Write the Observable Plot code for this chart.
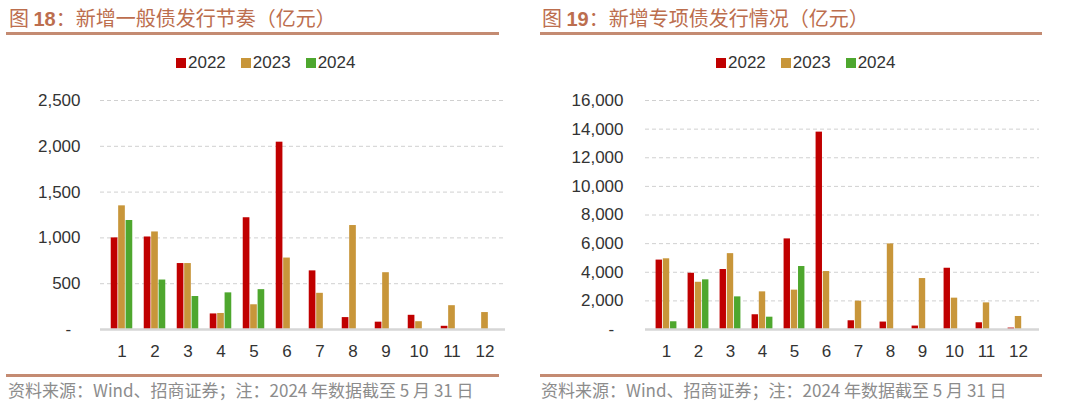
<!DOCTYPE html>
<html>
<head>
<meta charset="utf-8">
<script src="https://cdn.jsdelivr.net/npm/d3@7"></script>
<script src="https://cdn.jsdelivr.net/npm/@observablehq/plot@0.6"></script>
<style>
  html, body { margin: 0; padding: 0; background: #fff; }
  body { width: 1080px; height: 405px; position: relative; overflow: hidden;
         font-family: "Liberation Sans", Arial, "Noto Sans CJK SC", sans-serif; }
  .panel { position: absolute; top: 0; width: 545px; height: 405px; }
  .title { position: absolute; top: 5px; left: 9px; font-size: 20px; line-height: 26px;
           color: #BC6E4E; font-family: "Noto Sans CJK SC", sans-serif; white-space: nowrap; }
  .title b { font-family: "Liberation Sans", Arial, sans-serif; font-weight: bold; }
  .rule { position: absolute; height: 3px; background: #C48B72; }
  .legend { position: absolute; top: 53px; display: flex; align-items: center; font-size: 17px;
            color: #333; white-space: nowrap; }
  .legend span.sw { display: inline-block; width: 10px; height: 10px; margin-right: 2px; }
  .legend span.item { display: inline-flex; align-items: center; margin-right: 15px; }
  .plot { position: absolute; top: 85px; left: 0; }
  .source { position: absolute; top: 377px; left: 8px; font-size: 17px; color: #8C8C8C;
            font-family: "Noto Sans CJK SC", sans-serif; white-space: nowrap; }
</style>
</head>
<body>
<div class="panel" id="p1" style="left:0px">
  <div class="title">图 <b>18</b>：新增一般债发行节奏（亿元）</div>
  <div class="rule" style="top:32px;left:6px;width:493px"></div>
  <div class="legend" id="leg1" style="left:176px"></div>
  <div class="plot" id="plot1"></div>
  <div class="rule" style="top:374px;left:6px;width:493px"></div>
  <div class="source">资料来源：Wind、招商证券；注：2024 年数据截至 5 月 31 日</div>
</div>
<div class="panel" id="p2" style="left:533px">
  <div class="title">图 <b>19</b>：新增专项债发行情况（亿元）</div>
  <div class="rule" style="top:32px;left:7px;width:502px"></div>
  <div class="legend" id="leg2" style="left:183px"></div>
  <div class="plot" id="plot2"></div>
  <div class="rule" style="top:374px;left:7px;width:502px"></div>
  <div class="source">资料来源：Wind、招商证券；注：2024 年数据截至 5 月 31 日</div>
</div>
<script>
// ---- Data ----
const months = [1, 2, 3, 4, 5, 6, 7, 8, 9, 10, 11, 12];
const years = ["2022", "2023", "2024"];
const colors = ["#C00000", "#C8963A", "#4EA72E"];

const general2022 = [1000, 1010, 720, 170, 1220, 2045, 640, 130, 80, 155, 35, null];
const general2023 = [1350, 1065, 720, 175, 270, 780, 395, 1135, 620, 85, 260, 185];
const general2024 = [1190, 540, 360, 400, 435];

const special2022 = [4850, 3930, 4190, 1030, 6330, 13790, 610, 520, 240, 4280, 470, 100];
const special2023 = [4940, 3300, 5300, 2630, 2750, 4050, 1980, 5980, 3560, 2190, 1860, 910];
const special2024 = [540, 3470, 2280, 860, 4400];

const generalTicks = [0, 500, 1000, 1500, 2000, 2500];
const specialTicks = [0, 2000, 4000, 6000, 8000, 10000, 12000, 14000, 16000];

function toRows(series) {
  const rows = [];
  series.forEach((arr, i) => arr.forEach((v, j) => {
    if (v != null) rows.push({month: months[j], year: years[i], value: v});
  }));
  return rows;
}

function legend(id) {
  const el = document.getElementById(id);
  years.forEach((y, i) => {
    const item = document.createElement("span");
    item.className = "item";
    item.innerHTML = `<span class="sw" style="background:${colors[i]}"></span>${y}`;
    el.appendChild(item);
  });
}

function chart(id, series, ticks, ml, mr, tickPad) {
  const width = 545, height = 285, mt = 15, mb = 41;
  const bw = (width - ml - mr) / months.length;
  const group = bw * 0.66;
  const barW = group / 3;
  const rows = toRows(series);
  const fmt = d3.format(",");
  const marks = [
    Plot.ruleY(ticks.filter(t => t > 0), {stroke: "#D0D0D0", strokeWidth: 1, strokeDasharray: "4,3"})
  ];
  years.forEach((y, i) => {
    const left = (bw - group) / 2 + i * barW;
    marks.push(Plot.barY(rows.filter(r => r.year === y), {
      x: "month", y: "value", fill: colors[i],
      insetLeft: left, insetRight: bw - left - barW
    }));
  });
  marks.push(Plot.ruleY([0], {stroke: "#D6D6D6", strokeWidth: 2.5}));
  marks.push(Plot.axisX({tickSize: 0, tickPadding: 15, fontSize: 17, label: null}));
  marks.push(Plot.axisY({ticks, tickSize: 0, tickPadding: tickPad, fontSize: 17, label: null,
    tickFormat: d => d === 0 ? "-\u2007" : fmt(d)}));
  const svg = Plot.plot({
    width, height, marginLeft: ml, marginRight: mr, marginTop: mt, marginBottom: mb,
    x: {domain: months, padding: 0},
    y: {domain: [ticks[0], ticks[ticks.length - 1]]},
    style: {fontFamily: "'Liberation Sans', Arial, sans-serif", color: "#333", background: "transparent"},
    marks
  });
  document.getElementById(id).appendChild(svg);
}

legend("leg1");
legend("leg2");
chart("plot1", [general2022, general2023, general2024], generalTicks, 100, 40, 20);
chart("plot2", [special2022, special2023, special2024], specialTicks, 112, 39, 22);
</script>
</body>
</html>
